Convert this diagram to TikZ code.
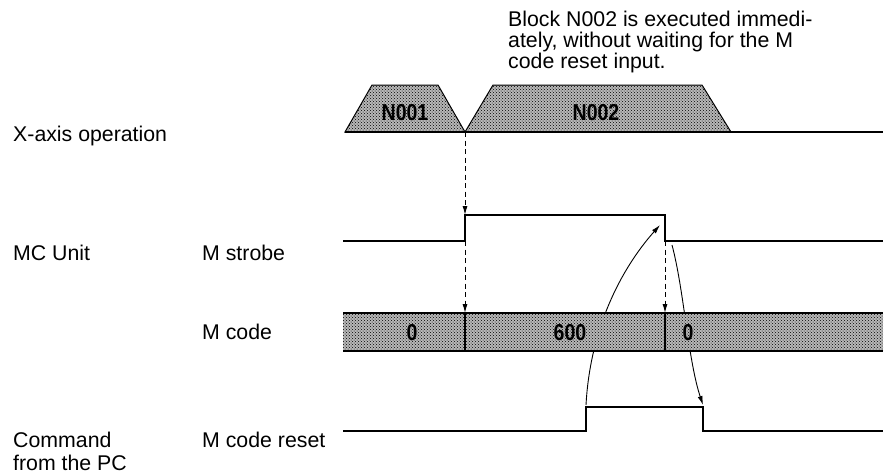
\documentclass[tikz,border=0pt]{standalone}
\usepackage{fontspec}
\setmainfont{Liberation Sans}
\usetikzlibrary{arrows.meta,patterns}
\newcommand\lblfont{\fontsize{21.3}{23.3}\selectfont}
\newcommand\notefont{\fontsize{21.3}{20.7}\selectfont}
\tikzset{
  >={Latex[length=9pt,width=5pt]},
  sig/.style={line width=1.5pt,line join=miter},
  dotfill/.style={preaction={fill=black!28},pattern=crosshatch dots,pattern color=black},
  lbl/.style={font=\lblfont,inner sep=0pt,align=left},
  val/.style={font=\fontsize{23}{23}\selectfont\bfseries,inner sep=0pt,xscale=0.85,transform shape},
  sync/.style={->,line width=1pt,dash pattern=on 5pt off 3.5pt},
  cause/.style={->,line width=0.9pt},
  divider/.style={line width=1.1pt},
}
\begin{document}
\begin{tikzpicture}[x=1pt,y=-1pt]
  \useasboundingbox (0,0) rectangle (885,475);
  % timing points
  \coordinate (edge) at (465,132);
  \coordinate (strOn) at (465,215);
  \coordinate (strOnLo) at (465,241);
  \coordinate (strOff) at (665,215);
  \coordinate (strOffLo) at (665,241);
  \coordinate (codeA) at (465,313);
  \coordinate (codeB) at (665,313);
  \coordinate (rstOn) at (586,405);
  \coordinate (rstOff) at (703,405);
  \coordinate (strTip) at (660,225);
  \coordinate (strFoot) at (672,245);
  % left labels
  \node[lbl,anchor=base west] (xaxis) at (13,141.5) {X-axis operation};
  \node[lbl,anchor=base west] (mcu) at (13,260) {MC Unit};
  \node[lbl,anchor=base west] (mstr) at (202,260) {M strobe};
  \node[lbl,anchor=base west] (mcode) at (202,339) {M code};
  \node[lbl,anchor=base west] (mrst) at (202,447) {M code reset};
  \node[lbl,anchor=north west] (cmd) at (13,431.5) {Command\\from the PC};
  \node[lbl,font=\notefont,anchor=north west] (note) at (508,11) {Block N002 is executed immedi-\\ately, without waiting for the M\\code reset input.};
  % X-axis blocks
  \filldraw[dotfill,line width=1pt] (345,132) -- (372,85) -- (438,85) -- (edge) -- cycle;
  \filldraw[dotfill,line width=1pt] (edge) -- (493,85) -- (702,85) -- (731,132) -- cycle;
  \node[val] (n1) at (405,113) {N001};
  \node[val] (n2) at (596,113) {N002};
  \draw[sig] (345,132) -- (883,132);
  % M strobe
  \draw[sig] (343,241) -- (strOnLo) -- (strOn) -- (strOff) -- (strOffLo) -- (883,241);
  % M code reset
  \draw[sig] (343,431) -- (586,431) -- (586,407) -- (703,407) -- (703,431) -- (883,431);
  % handshake curves (run behind the M code bar)
  \draw[cause] (rstOn) .. controls (590,330) and (620,270) .. (strTip);
  \draw[cause] (strFoot) .. controls (684,290) and (688,360) .. (rstOff);
  % M code bar
  \fill[dotfill] (343,313) rectangle (883,351);
  \draw[sig] (343,313) -- (883,313) (343,351) -- (883,351);
  \draw[divider] (codeA) -- (465,351) (codeB) -- (665,351);
  \node[val] (c0) at (412,333) {0};
  \node[val] (c600) at (570,333) {600};
  \node[val] (c1) at (688,333) {0};
  % strobe follows the block change
  \draw[sync] (edge) -- (strOn);
  \draw[sync] (strOnLo) -- (codeA);
  \draw[sync] (strOffLo) -- (codeB);
\end{tikzpicture}
\end{document}
